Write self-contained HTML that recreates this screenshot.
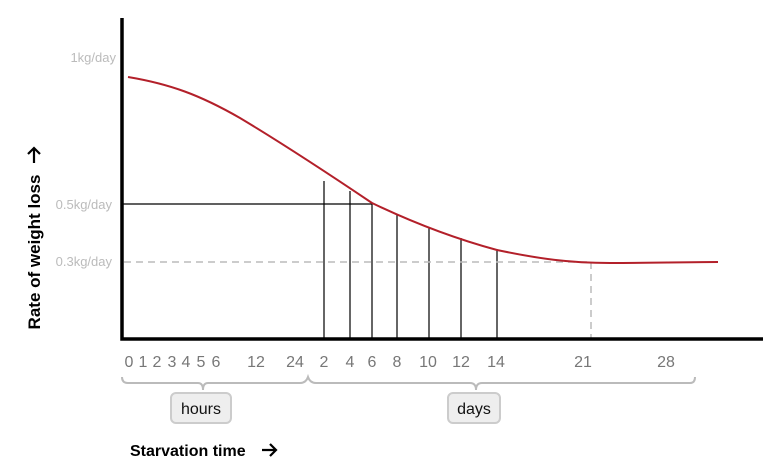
<!DOCTYPE html>
<html><head><style>body{margin:0;background:#fff}svg{display:block}</style></head>
<body>
<svg width="768" height="473" xmlns="http://www.w3.org/2000/svg" font-family="Liberation Sans, sans-serif">
<g stroke="#000" stroke-width="1.2">
<line x1="122" y1="204" x2="372" y2="204"/>
<line x1="324" y1="181" x2="324" y2="339"/>
<line x1="350" y1="191" x2="350" y2="339"/>
<line x1="372" y1="204" x2="372" y2="339"/>
<line x1="397" y1="214" x2="397" y2="339"/>
<line x1="429" y1="227" x2="429" y2="339"/>
<line x1="461" y1="238" x2="461" y2="339"/>
<line x1="497" y1="249" x2="497" y2="339"/>
</g>
<g stroke="#bbb" stroke-width="1.5" stroke-dasharray="7,5">
<line x1="124" y1="262" x2="590" y2="262"/>
<line x1="591" y1="262" x2="591" y2="339"/>
</g>
<path d="M128 77 C170 84 200 95 240 118 C280 142 320 168 372 203 C420 226 460 240 497 250 C540 259 570 263 610 263 C660 263 690 262 718 262" fill="none" stroke="#b3202a" stroke-width="2"/>
<g stroke="#000" stroke-width="3.5" fill="none">
<polyline points="122,18 122,339 763,339"/>
</g>
<g fill="#bbb" font-size="13" text-anchor="end">
<text x="116" y="62">1kg/day</text>
<text x="112" y="209">0.5kg/day</text>
<text x="112" y="266">0.3kg/day</text>
</g>
<g fill="#777" font-size="16" text-anchor="middle">
<text x="129" y="367">0</text><text x="143" y="367">1</text><text x="157" y="367">2</text><text x="172" y="367">3</text><text x="186" y="367">4</text><text x="201" y="367">5</text><text x="216" y="367">6</text>
<text x="256" y="367">12</text><text x="295" y="367">24</text><text x="324" y="367">2</text><text x="350" y="367">4</text><text x="372" y="367">6</text><text x="397" y="367">8</text><text x="428" y="367">10</text><text x="461" y="367">12</text><text x="496" y="367">14</text><text x="583" y="367">21</text><text x="666" y="367">28</text>
</g>
<g stroke="#bbb" stroke-width="2" fill="none">
<path d="M122 377 Q122 383 128 383 L198 383 Q203 383 203 390 Q203 383 208 383 L300 383 Q306 383 308 377 Q310 383 316 383 L470 383 Q476 383 476 390 Q476 383 482 383 L690 383 Q695 383 695 377"/>
</g>
<rect x="171" y="393" width="60" height="30" rx="5" fill="#eee" stroke="#ccc" stroke-width="2"/>
<rect x="448" y="393" width="52" height="30" rx="5" fill="#eee" stroke="#ccc" stroke-width="2"/>
<g fill="#111" font-size="16" text-anchor="middle">
<text x="201" y="414">hours</text><text x="474" y="414">days</text>
</g>
<text x="130" y="456" font-size="16" font-weight="bold" fill="#000">Starvation time</text>
<path d="M262 450 H276 M270 444 L276 450 L270 456" stroke="#000" stroke-width="2.2" fill="none"/>
<text transform="translate(40,252) rotate(-90)" font-size="17" font-weight="bold" text-anchor="middle" fill="#000">Rate of weight loss</text>
<path d="M34 163 V148 M28 154 L34 148 L40 154" stroke="#000" stroke-width="2.2" fill="none"/>
</svg>
</body></html>
